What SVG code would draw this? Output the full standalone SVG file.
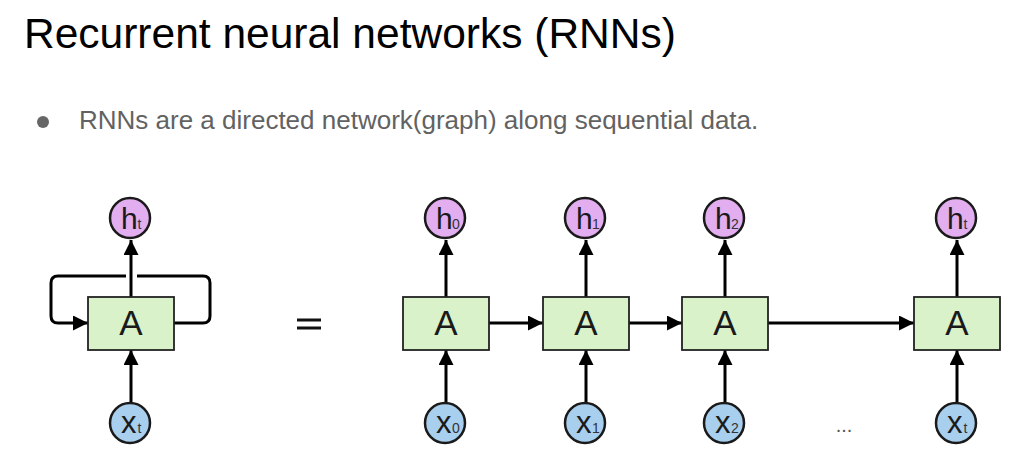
<svg xmlns="http://www.w3.org/2000/svg" width="1013" height="456" viewBox="0 0 1013 456">
<style>
.title{font-family:"Liberation Sans",Arial,sans-serif;font-size:42.5px;fill:#000}
.bullet{font-family:"Liberation Sans",Arial,sans-serif;font-size:26px;fill:#626262}
.box{fill:#d9f2c9;stroke:#222;stroke-width:1.8}
.hc{fill:#e3aef0;stroke:#1a1a1a;stroke-width:2.5}
.xc{fill:#a9cfee;stroke:#1a1a1a;stroke-width:2.5}
.lbl{font-family:"Liberation Sans",Arial,sans-serif;fill:#1a1a1a}
.big{font-size:35px}
.ch{font-size:30px}
.cx{font-size:31px}
.sub{font-size:14px;fill:#333}
.edge{stroke:#000;stroke-width:3;fill:none}
</style>
<defs>
<marker id="ah" markerUnits="userSpaceOnUse" markerWidth="16" markerHeight="15" refX="15" refY="7.5" orient="auto">
<path d="M0,0 L15,7.5 L0,15 z" fill="#000"/>
</marker>
</defs>
<rect width="1013" height="456" fill="#fff"/>
<text class="title" x="24" y="48">Recurrent neural networks (RNNs)</text>
<circle cx="43" cy="122" r="6" fill="#666"/>
<text class="bullet" x="79" y="129">RNNs are a directed network(graph) along sequential data.</text>

<g id="connectors">
<line class="edge" x1="131" y1="297" x2="131" y2="240" marker-end="url(#ah)"/>
<line class="edge" x1="131" y1="402" x2="131" y2="350" marker-end="url(#ah)"/>
<path class="edge" d="M174,323 H203 Q210,323 210,316 V283 Q210,276 203,276 H137 M126,276 H58 Q51,276 51,283 V316 Q51,323 58,323 H88" marker-end="url(#ah)"/>
<line class="edge" x1="446" y1="297" x2="446" y2="240" marker-end="url(#ah)"/>
<line class="edge" x1="446" y1="402" x2="446" y2="350" marker-end="url(#ah)"/>
<line class="edge" x1="586" y1="297" x2="586" y2="240" marker-end="url(#ah)"/>
<line class="edge" x1="586" y1="402" x2="586" y2="350" marker-end="url(#ah)"/>
<line class="edge" x1="725" y1="297" x2="725" y2="240" marker-end="url(#ah)"/>
<line class="edge" x1="725" y1="402" x2="725" y2="350" marker-end="url(#ah)"/>
<line class="edge" x1="957" y1="297" x2="957" y2="240" marker-end="url(#ah)"/>
<line class="edge" x1="957" y1="402" x2="957" y2="350" marker-end="url(#ah)"/>
<line class="edge" x1="489" y1="323" x2="543" y2="323" marker-end="url(#ah)"/>
<line class="edge" x1="629" y1="323" x2="682" y2="323" marker-end="url(#ah)"/>
<line class="edge" x1="768" y1="323" x2="914" y2="323" marker-end="url(#ah)"/>
</g>

<g id="loop-A"><rect class="box" x="88" y="297" width="86" height="53"/><text class="lbl big" x="131" y="335" text-anchor="middle">A</text></g>
<g id="loop-h"><circle class="hc" cx="130" cy="218" r="20"/><text class="lbl ch" x="121" y="229">h</text><text class="lbl sub" x="137.5" y="229">t</text></g>
<g id="loop-x"><circle class="xc" cx="130" cy="423" r="20"/><text class="lbl cx" x="121" y="433">x</text><text class="lbl sub" x="137.5" y="433">t</text></g>

<g id="equals"><rect x="297" y="318.5" width="24" height="3" fill="#111"/><rect x="297" y="326.5" width="24" height="3" fill="#111"/></g>

<g id="A0"><rect class="box" x="403" y="297" width="86" height="53"/><text class="lbl big" x="446" y="335" text-anchor="middle">A</text></g>
<g id="A1"><rect class="box" x="543" y="297" width="86" height="53"/><text class="lbl big" x="586" y="335" text-anchor="middle">A</text></g>
<g id="A2"><rect class="box" x="682" y="297" width="86" height="53"/><text class="lbl big" x="725" y="335" text-anchor="middle">A</text></g>
<g id="At"><rect class="box" x="914" y="297" width="86" height="53"/><text class="lbl big" x="957" y="335" text-anchor="middle">A</text></g>

<g id="h0"><circle class="hc" cx="445" cy="218" r="20"/><text class="lbl ch" x="436" y="229">h</text><text class="lbl sub" x="452" y="229">0</text></g>
<g id="h1"><circle class="hc" cx="585" cy="218" r="20"/><text class="lbl ch" x="576" y="229">h</text><text class="lbl sub" x="592" y="229">1</text></g>
<g id="h2"><circle class="hc" cx="724" cy="218" r="20"/><text class="lbl ch" x="715" y="229">h</text><text class="lbl sub" x="731" y="229">2</text></g>
<g id="ht"><circle class="hc" cx="956" cy="218" r="20"/><text class="lbl ch" x="947" y="229">h</text><text class="lbl sub" x="963.5" y="229">t</text></g>

<g id="x0"><circle class="xc" cx="445" cy="423" r="20"/><text class="lbl cx" x="436" y="433">x</text><text class="lbl sub" x="452" y="433">0</text></g>
<g id="x1"><circle class="xc" cx="585" cy="423" r="20"/><text class="lbl cx" x="576" y="433">x</text><text class="lbl sub" x="592" y="433">1</text></g>
<g id="x2"><circle class="xc" cx="724" cy="423" r="20"/><text class="lbl cx" x="715" y="433">x</text><text class="lbl sub" x="731" y="433">2</text></g>
<g id="xt"><circle class="xc" cx="956" cy="423" r="20"/><text class="lbl cx" x="947" y="433">x</text><text class="lbl sub" x="963.5" y="433">t</text></g>

<text x="844" y="432" text-anchor="middle" font-family="Liberation Sans, Arial, sans-serif" font-size="20" fill="#555">...</text>
</svg>
